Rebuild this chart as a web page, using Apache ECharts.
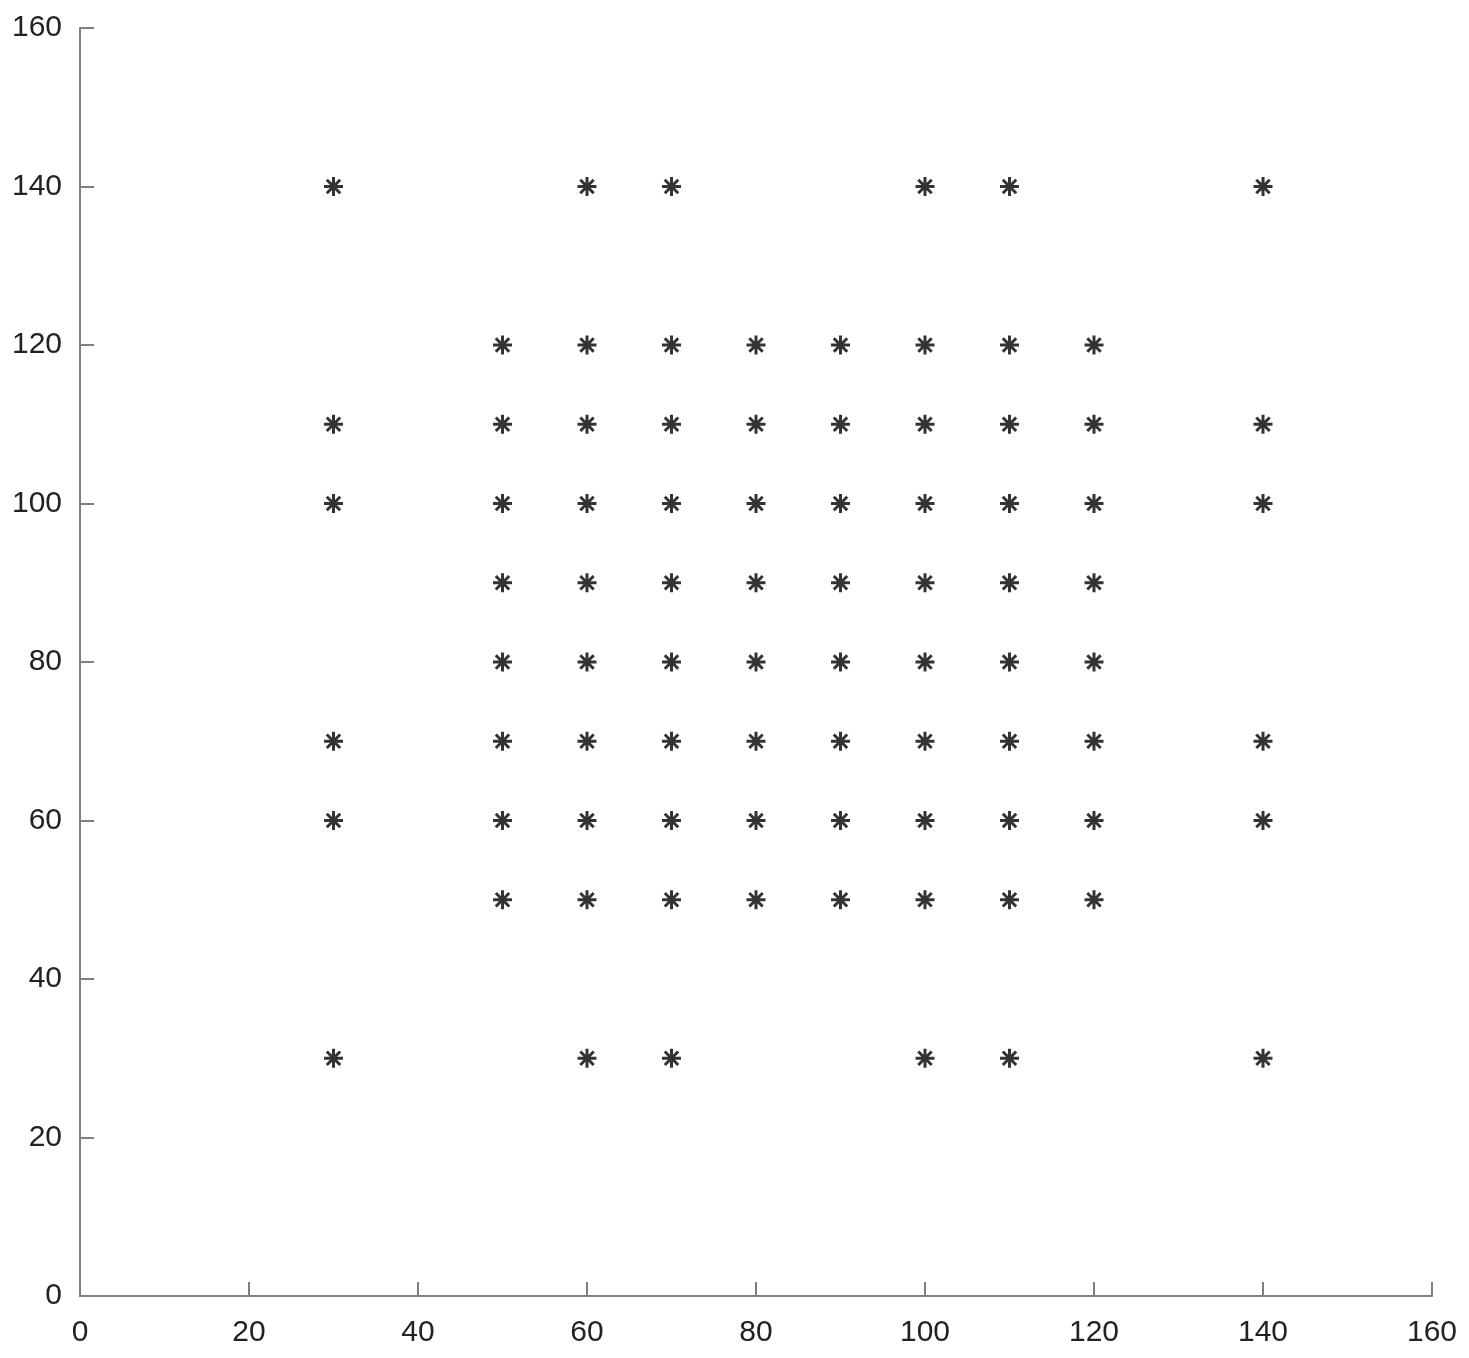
<!DOCTYPE html>
<html>
<head>
<meta charset="utf-8">
<script src="https://cdn.jsdelivr.net/npm/echarts@6/dist/echarts.min.js"></script>
<style>
  html, body { margin: 0; padding: 0; background: #fff; }
  #chart { width: 1469px; height: 1358px; }
</style>
</head>
<body>
<div id="chart"></div>
<script>
// each row: y value and the x values that have a marker on it
const rowY = [140, 120, 110, 100, 90, 80, 70, 60, 50, 30];
const rowX = [
  [30, 60, 70, 100, 110, 140],
  [50, 60, 70, 80, 90, 100, 110, 120],
  [30, 50, 60, 70, 80, 90, 100, 110, 120, 140],
  [30, 50, 60, 70, 80, 90, 100, 110, 120, 140],
  [50, 60, 70, 80, 90, 100, 110, 120],
  [50, 60, 70, 80, 90, 100, 110, 120],
  [30, 50, 60, 70, 80, 90, 100, 110, 120, 140],
  [30, 50, 60, 70, 80, 90, 100, 110, 120, 140],
  [50, 60, 70, 80, 90, 100, 110, 120],
  [30, 60, 70, 100, 110, 140]
];

let points = [];
rowY.forEach((y, i) => {
  rowX[i].forEach(x => points.push([x, y]));
});

// asterisk made of 4 strokes through the centre
const star = 'path://M0,-10L0,10M-10,0L10,0M-7.07,-7.07L7.07,7.07M-7.07,7.07L7.07,-7.07';

const axisCommon = {
  type: 'value',
  min: 0,
  max: 160,
  interval: 20,
  axisLine: { show: true, lineStyle: { color: '#808080', width: 2 } },
  axisTick: { show: true, inside: true, length: 14, lineStyle: { color: '#808080', width: 2 } },
  splitLine: { show: false },
  axisLabel: {
    color: '#222',
    fontFamily: 'Liberation Sans',
    fontSize: 30
  }
};

let chart = echarts.init(document.getElementById('chart'));
chart.setOption({
  animation: false,
  backgroundColor: '#fff',
  grid: { left: 80, right: 37, top: 28, bottom: 62, containLabel: false },
  xAxis: Object.assign({}, axisCommon, {
    axisLabel: Object.assign({}, axisCommon.axisLabel, { margin: 22 })
  }),
  yAxis: Object.assign({}, axisCommon, {
    axisLabel: Object.assign({}, axisCommon.axisLabel, { margin: 18 })
  }),
  series: [{
    type: 'scatter',
    data: points,
    symbol: star,
    symbolSize: 19,
    itemStyle: { color: 'rgba(0,0,0,0)', borderColor: '#000', borderWidth: 3 }
  }]
});
</script>
</body>
</html>
